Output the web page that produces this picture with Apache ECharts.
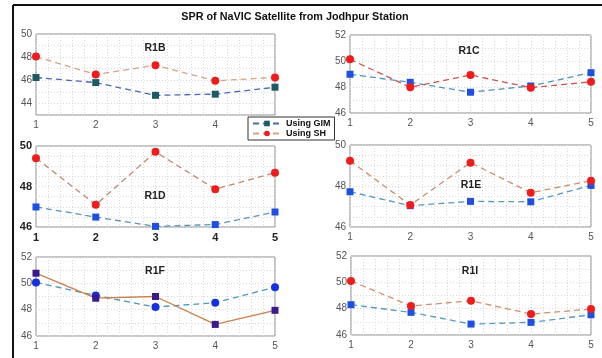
<!DOCTYPE html>
<html><head><meta charset="utf-8">
<script src="https://cdn.jsdelivr.net/npm/echarts@6/dist/echarts.min.js"></script>
<style>html,body{margin:0;padding:0;background:#fff}#c{width:602px;height:358px}</style>
</head><body><div id="c"></div>
<script>
const xs = [1, 2, 3, 4, 5];
const r1bGim = [46.24, 45.8, 44.7, 44.8, 45.4];
const r1bSh = [48.05, 46.5, 47.3, 45.95, 46.25];
const r1cGim = [48.98, 48.36, 47.6, 48.08, 49.1];
const r1cSh = [50.13, 47.98, 48.92, 47.95, 48.4];
const r1dGim = [46.99, 46.49, 46.03, 46.12, 46.74];
const r1dSh = [49.4, 47.1, 49.71, 47.87, 48.68];
const r1eGim = [47.72, 47.04, 47.25, 47.23, 48.03];
const r1eSh = [49.23, 47.07, 49.14, 47.67, 48.26];
const r1fCircle = [50.07, 49.07, 48.2, 48.53, 49.7];
const r1fSquare = [50.77, 48.87, 49.0, 46.88, 47.95];
const r1iGim = [48.3, 47.72, 46.83, 46.96, 47.54];
const r1iSh = [50.11, 48.2, 48.6, 47.59, 47.97];
const panelNames = ['R1B', 'R1C', 'R1D', 'R1E', 'R1F', 'R1I'];
const titleText = 'SPR of NaVIC Satellite from Jodhpur Station';

const FONT = 'Liberation Sans, Arial, sans-serif';
const pair = v => xs.map((x, i) => [x, v[i]]);

const grids = [
  {left: 36, top: 34, width: 239, height: 81},
  {left: 350, top: 35, width: 241, height: 78},
  {left: 36, top: 146, width: 239, height: 81},
  {left: 350, top: 145, width: 241, height: 82},
  {left: 36, top: 257, width: 239, height: 79},
  {left: 351, top: 256, width: 240, height: 79}
].map(g => Object.assign({show: true, borderColor: '#8c8c8c', borderWidth: 1, backgroundColor: '#fff'}, g));

const yCfg = [
  {min: 43, max: 50, interval: 1, even: true, minor: 1},
  {min: 46, max: 52, interval: 2, minor: 2},
  {min: 46, max: 50, interval: 2, minor: 4, bold: true},
  {min: 46, max: 50, interval: 2, minor: 4},
  {min: 46, max: 52, interval: 2, minor: 2},
  {min: 46, max: 52, interval: 2, minor: 2}
];
const dotted = {color: '#d9d9d9', type: [1, 2], width: 1};

const xAxis = grids.map((g, i) => ({
  type: 'value', gridIndex: i, min: 1, max: 5, interval: 1,
  axisLine: {show: false}, axisTick: {show: false},
  axisLabel: {margin: 5, color: yCfg[i].bold ? '#222' : '#555', fontSize: yCfg[i].bold ? 11 : 10,
    fontWeight: yCfg[i].bold ? 'bold' : 'normal', fontFamily: FONT},
  splitLine: {show: true, lineStyle: dotted},
  minorTick: {show: false, splitNumber: 5},
  minorSplitLine: {show: true, lineStyle: dotted}
}));
const yAxis = grids.map((g, i) => {
  const c = yCfg[i];
  return {
    type: 'value', gridIndex: i, min: c.min, max: c.max, interval: c.interval,
    axisLine: {show: false}, axisTick: {show: false},
    axisLabel: {margin: 4, color: c.bold ? '#222' : '#555', fontSize: c.bold ? 11 : 10,
      fontWeight: c.bold ? 'bold' : 'normal', fontFamily: FONT,
      formatter: v => (c.even && v % 2 !== 0) ? '' : String(v)},
    splitLine: {show: true, lineStyle: dotted},
    minorTick: {show: false, splitNumber: c.minor},
    minorSplitLine: {show: c.minor > 1, lineStyle: dotted}
  };
});

function ser(name, idx, data, lineColor, markColor, symbol, size, dashed) {
  return {
    name: name, type: 'line', xAxisIndex: idx, yAxisIndex: idx, data: pair(data),
    symbol: symbol, symbolSize: size, showSymbol: true,
    lineStyle: {color: lineColor, width: 1.3, type: dashed ? [6, 4] : 'solid'},
    itemStyle: {color: markColor, borderWidth: 0},
    emphasis: {disabled: true}, animation: false, z: name === 'Using SH' ? 3 : 2
  };
}

const series = [
  ser('Using GIM', 0, r1bGim, '#4a68b8', '#1d5a62', 'rect', 7, true),
  ser('Using SH', 0, r1bSh, '#d8a486', '#ee1c1c', 'circle', 8, true),
  ser('Using GIM', 1, r1cGim, '#4d96b8', '#1f4fe0', 'rect', 7, true),
  ser('Using SH', 1, r1cSh, '#d05252', '#ee1c1c', 'circle', 8, true),
  ser('Using GIM', 2, r1dGim, '#5a94b4', '#1f4fe0', 'rect', 7, true),
  ser('Using SH', 2, r1dSh, '#c08a6c', '#ee1c1c', 'circle', 8, true),
  ser('Using GIM', 3, r1eGim, '#5a9ac0', '#1f4fe0', 'rect', 7, true),
  ser('Using SH', 3, r1eSh, '#c8906c', '#ee1c1c', 'circle', 8, true),
  ser('F circle', 4, r1fCircle, '#4a9ab8', '#1530e0', 'circle', 8, true),
  ser('F square', 4, r1fSquare, '#c8804a', '#3a1a8c', 'rect', 7, false),
  ser('Using GIM', 5, r1iGim, '#5a9ac0', '#1f4fe0', 'rect', 7, true),
  ser('Using SH', 5, r1iSh, '#d0906c', '#ee1c1c', 'circle', 8, true)
];

const labelPos = [[155, 49], [469, 52], [155, 197], [471, 186], [155, 272], [470, 272]];
const titles = [{
  text: titleText, left: 295, top: 12, textAlign: 'center', padding: 0,
  textStyle: {fontSize: 10.8, fontWeight: 'bold', color: '#111', fontFamily: FONT}
}].concat(panelNames.map((n, i) => ({
  text: n, left: labelPos[i][0], top: labelPos[i][1] - 6, textAlign: 'center', padding: 0,
  textStyle: {fontSize: 10.5, fontWeight: 'bold', color: '#222', fontFamily: FONT}
})));

const chart = echarts.init(document.getElementById('c'), null, {renderer: 'canvas'});
chart.setOption({
  animation: false,
  backgroundColor: '#fff',
  title: titles,
  grid: grids, xAxis: xAxis, yAxis: yAxis, series: series,
  legend: {
    data: ['Using GIM', 'Using SH'], left: 248, top: 117, orient: 'vertical',
    backgroundColor: '#fff', borderColor: '#333', borderWidth: 1, borderRadius: 0,
    padding: [2, 4, 2, 4], itemGap: 1, itemWidth: 28, itemHeight: 7,
    textStyle: {fontSize: 9, fontWeight: 'bold', color: '#111', fontFamily: FONT},
    selectedMode: false
  },
  graphic: [
    {type: 'line', shape: {x1: 13, y1: 5, x2: 602, y2: 5}, style: {stroke: '#111', lineWidth: 2}, z: 100},
    {type: 'line', shape: {x1: 13, y1: 5, x2: 13, y2: 358}, style: {stroke: '#111', lineWidth: 2}, z: 100}
  ]
});
</script></body></html>
